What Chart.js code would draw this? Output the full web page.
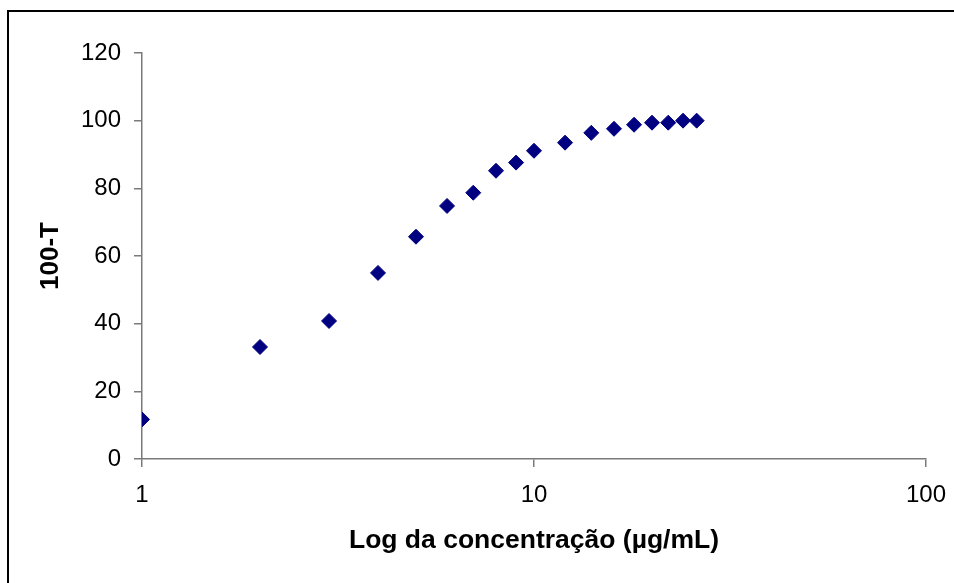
<!DOCTYPE html>
<html>
<head>
<meta charset="utf-8">
<script src="https://cdn.jsdelivr.net/npm/chart.js@4"></script>
<style>
  html, body { margin: 0; padding: 0; background: #fff; overflow: hidden; }
  #wrap { position: relative; width: 954px; height: 583px; }
  #frame { position: absolute; left: 7px; top: 10px; width: 1000px; height: 700px;
           border-top: 2px solid #000; border-left: 2px solid #000; box-sizing: border-box; pointer-events: none; }
  canvas { position: absolute; left: 0; top: 0; }
</style>
</head>
<body>
<div id="wrap">
  <canvas id="c" width="954" height="583"></canvas>
  <div id="frame"></div>
</div>
<script>
// Data
const concentration = [1, 2, 3, 4, 5, 6, 7, 8, 9, 10, 12, 14, 16, 18, 20, 22, 24, 26];
const inhibition = [11.7, 33.1, 40.8, 55.0, 65.7, 74.8, 78.7, 85.2, 87.6, 91.1, 93.5, 96.4, 97.6, 98.8, 99.4, 99.4, 100, 100];
const xTickValues = [1, 10, 100];
const yTickValues = [0, 20, 40, 60, 80, 100, 120];
const xTitle = 'Log da concentração (µg/mL)';
const yTitle = '100-T';

const points = concentration.map((x, i) => ({ x: x, y: inhibition[i] }));
const fontFamily = '"Liberation Sans", Arial, sans-serif';
const axisColor = '#7a7a7a';

new Chart(document.getElementById('c'), {
  type: 'scatter',
  data: {
    datasets: [{
      data: points,
      pointStyle: 'rectRot',
      pointRadius: 7.5,
      pointHoverRadius: 7.5,
      backgroundColor: '#000080',
      borderColor: '#000080',
      borderWidth: 1
    }]
  },
  options: {
    responsive: false,
    animation: false,
    devicePixelRatio: 1,
    layout: { padding: { left: 0, right: 28, top: 53, bottom: 0 } },
    plugins: { legend: { display: false }, tooltip: { enabled: false } },
    scales: {
      x: {
        type: 'logarithmic',
        min: 1, max: 100,
        afterBuildTicks: (s) => { s.ticks = xTickValues.map(v => ({ value: v, major: true })); },
        afterFit: (s) => { s.height = 124; s.paddingRight = 0; s.paddingLeft = 0; },
        border: { display: true, color: axisColor, width: 1.5 },
        grid: { display: true, drawOnChartArea: false, drawTicks: true, tickLength: 8, color: axisColor, lineWidth: 1.5 },
        ticks: {
          autoSkip: false, maxRotation: 0, padding: 14,
          color: '#000', font: { family: fontFamily, size: 24 },
          callback: (v) => String(v)
        },
        title: {
          display: true, text: xTitle, color: '#000',
          font: { family: fontFamily, size: 26.5, weight: 'bold' },
          padding: { top: 0, bottom: 26 }
        }
      },
      y: {
        min: 0, max: 120,
        afterBuildTicks: (s) => { s.ticks = yTickValues.map(v => ({ value: v })); },
        afterFit: (s) => { s.width = 142; s.paddingTop = 0; s.paddingBottom = 0; },
        border: { display: true, color: axisColor, width: 1.5 },
        grid: { display: true, drawOnChartArea: false, drawTicks: true, tickLength: 8, color: axisColor, lineWidth: 1.5 },
        ticks: {
          padding: 13, color: '#000', font: { family: fontFamily, size: 24 },
          callback: (v) => String(v)
        },
        title: {
          display: true, text: yTitle, color: '#000',
          font: { family: fontFamily, size: 26, weight: 'bold' },
          padding: { top: 35, bottom: 0 }
        }
      }
    }
  }
});
</script>
</body>
</html>
